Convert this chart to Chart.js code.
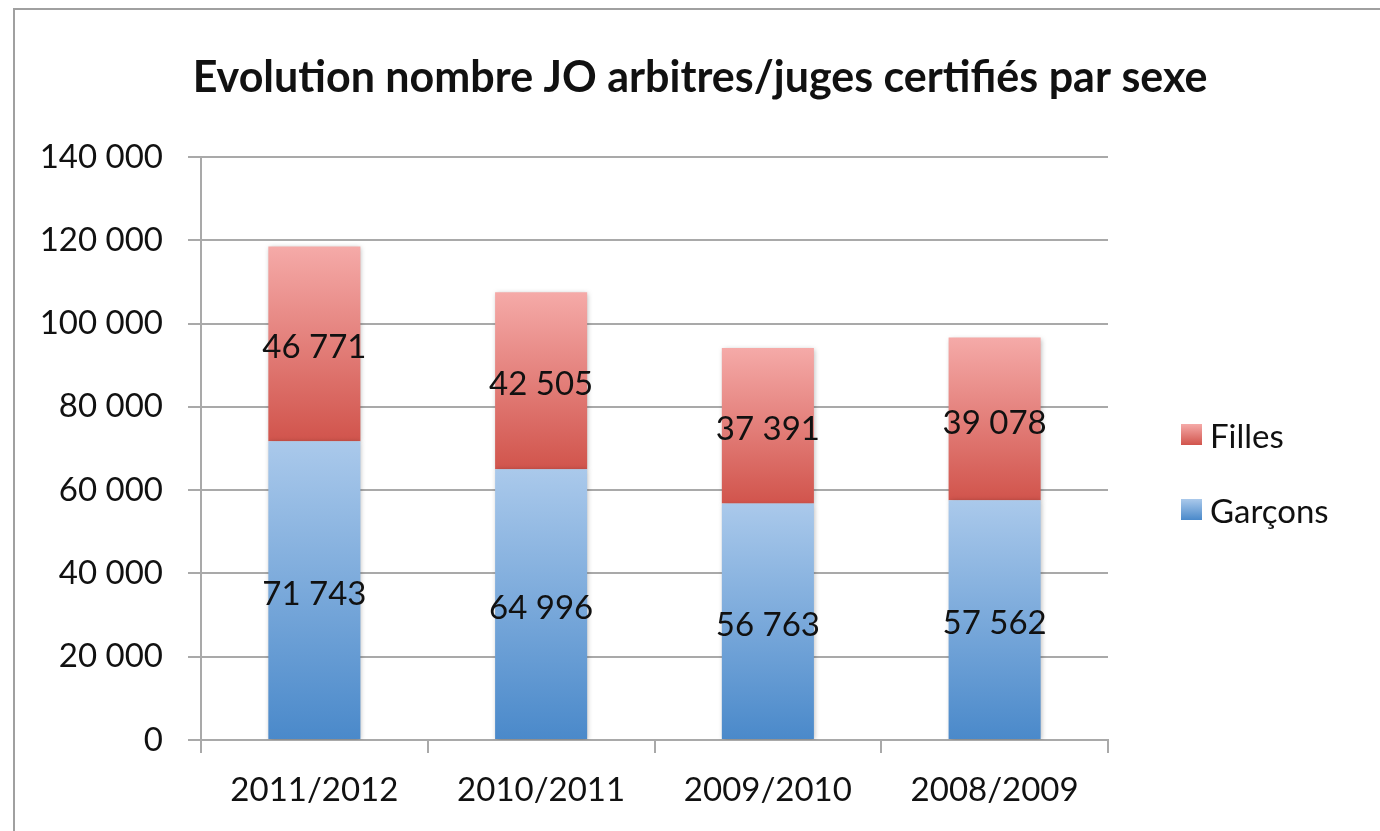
<!DOCTYPE html>
<html>
<head>
<meta charset="utf-8">
<script src="https://cdn.jsdelivr.net/npm/chart.js@4/dist/chart.umd.min.js"></script>
<style>
  body { margin: 0; background: #fff; }
  #wrap { width: 1380px; height: 831px; }
</style>
</head>
<body>
<div id="wrap"><canvas id="chart" width="1380" height="831"></canvas></div>
<script>
// data
const chartTitle = 'Evolution nombre JO arbitres/juges certifiés par sexe';
const seasons = ['2011/2012', '2010/2011', '2009/2010', '2008/2009'];
const garcons = [71743, 64996, 56763, 57562];
const filles = [46771, 42505, 37391, 39078];
const yTicks = [0, 20000, 40000, 60000, 80000, 100000, 120000, 140000];

const FONT = 'Lato, "Open Sans", sans-serif';
const gridColor = '#a9a9a9';

// gradient stops (top, bottom)
const redStops = ['#f5aaa8', '#d1544c'];
const blueStops = ['#aac9eb', '#4a89ca'];

function fmt(v) {
  return String(v).replace(/\B(?=(\d{3})+(?!\d))/g, ' ');
}

function segGradient(stops, below) {
  return (c) => {
    const chart = c.chart;
    const y = chart.scales.y;
    if (!chart.chartArea || !y || c.dataIndex === undefined) return stops[1];
    const base = below ? below[c.dataIndex] : 0;
    const top = base + c.raw;
    const y0 = y.getPixelForValue(top), y1 = y.getPixelForValue(base);
    const g = chart.ctx.createLinearGradient(0, y0, 0, y1);
    g.addColorStop(0, stops[0]);
    g.addColorStop(1, stops[1]);
    return g;
  };
}

// frame around the whole chart + title centred on the frame
const framePlugin = {
  id: 'frame',
  beforeDraw(chart) {
    const ctx = chart.ctx;
    ctx.save();
    ctx.strokeStyle = '#a0a0a0';
    ctx.lineWidth = 2;
    ctx.strokeRect(14, 9, 1400, 900);
    ctx.font = 'bold 43px ' + FONT;
    ctx.fillStyle = '#111';
    ctx.textAlign = 'center';
    ctx.textBaseline = 'middle';
    ctx.fillText(chartTitle, 700, 78);
    ctx.restore();
  }
};

// soft shadow on bars
const shadowPlugin = {
  id: 'shadow',
  beforeDatasetsDraw(chart) {
    const ctx = chart.ctx;
    ctx.save();
    ctx.shadowColor = 'rgba(0,0,0,0.28)';
    ctx.shadowBlur = 5;
    ctx.shadowOffsetX = 1;
    ctx.shadowOffsetY = 1;
  },
  afterDatasetsDraw(chart) {
    chart.ctx.restore();
  }
};

// values centred in each segment
const labelPlugin = {
  id: 'segLabels',
  afterDatasetsDraw(chart) {
    const ctx = chart.ctx;
    ctx.save();
    ctx.font = '33px ' + FONT;
    ctx.fillStyle = '#111';
    ctx.textAlign = 'center';
    ctx.textBaseline = 'middle';
    chart.data.datasets.forEach((ds, i) => {
      chart.getDatasetMeta(i).data.forEach((el, j) => {
        ctx.fillText(fmt(ds.data[j]), el.x, (el.y + el.base) / 2 + 4);
      });
    });
    ctx.restore();
  }
};

// legend at right, Filles on top
const legendPlugin = {
  id: 'sideLegend',
  afterDraw(chart) {
    const ctx = chart.ctx;
    const items = [
      { text: chart.data.datasets[1].label, stops: redStops, y: 434 },
      { text: chart.data.datasets[0].label, stops: blueStops, y: 509 }
    ];
    ctx.save();
    ctx.font = '33px ' + FONT;
    ctx.textBaseline = 'middle';
    items.forEach(it => {
      const g = ctx.createLinearGradient(0, it.y - 10, 0, it.y + 11);
      g.addColorStop(0, it.stops[0]);
      g.addColorStop(1, it.stops[1]);
      ctx.fillStyle = g;
      ctx.fillRect(1181, it.y - 10, 21, 21);
      ctx.fillStyle = '#111';
      ctx.fillText(it.text, 1210, it.y + 3);
    });
    ctx.restore();
  }
};

new Chart(document.getElementById('chart'), {
  type: 'bar',
  data: {
    labels: seasons,
    datasets: [
      {
        label: 'Garçons',
        data: garcons,
        backgroundColor: segGradient(blueStops, null),
        barPercentage: 0.406,
        categoryPercentage: 1
      },
      {
        label: 'Filles',
        data: filles,
        backgroundColor: segGradient(redStops, garcons),
        barPercentage: 0.406,
        categoryPercentage: 1
      }
    ]
  },
  options: {
    responsive: false,
    animation: false,
    layout: { padding: { left: 13, top: 157, right: 272, bottom: 0 } },
    plugins: {
      legend: { display: false },
      tooltip: { enabled: false },
      title: { display: false }
    },
    scales: {
      x: {
        stacked: true,
        afterFit: (s) => { s.height = 91; },
        grid: { offset: true, drawOnChartArea: false, color: gridColor, lineWidth: 2, tickLength: 13 },
        border: { color: gridColor, width: 2 },
        ticks: { color: '#111', padding: 18, font: { family: FONT, size: 33 } }
      },
      y: {
        stacked: true,
        min: 0,
        max: 140000,
        afterFit: (s) => { s.width = 188; },
        afterBuildTicks: (s) => { s.ticks = yTicks.map(v => ({ value: v })); },
        grid: { color: gridColor, lineWidth: 2, tickLength: 13 },
        border: { color: gridColor, width: 2 },
        ticks: { color: '#111', padding: 25, font: { family: FONT, size: 33 }, callback: (v) => fmt(v) }
      }
    }
  },
  plugins: [framePlugin, shadowPlugin, labelPlugin, legendPlugin]
});
</script>
</body>
</html>
